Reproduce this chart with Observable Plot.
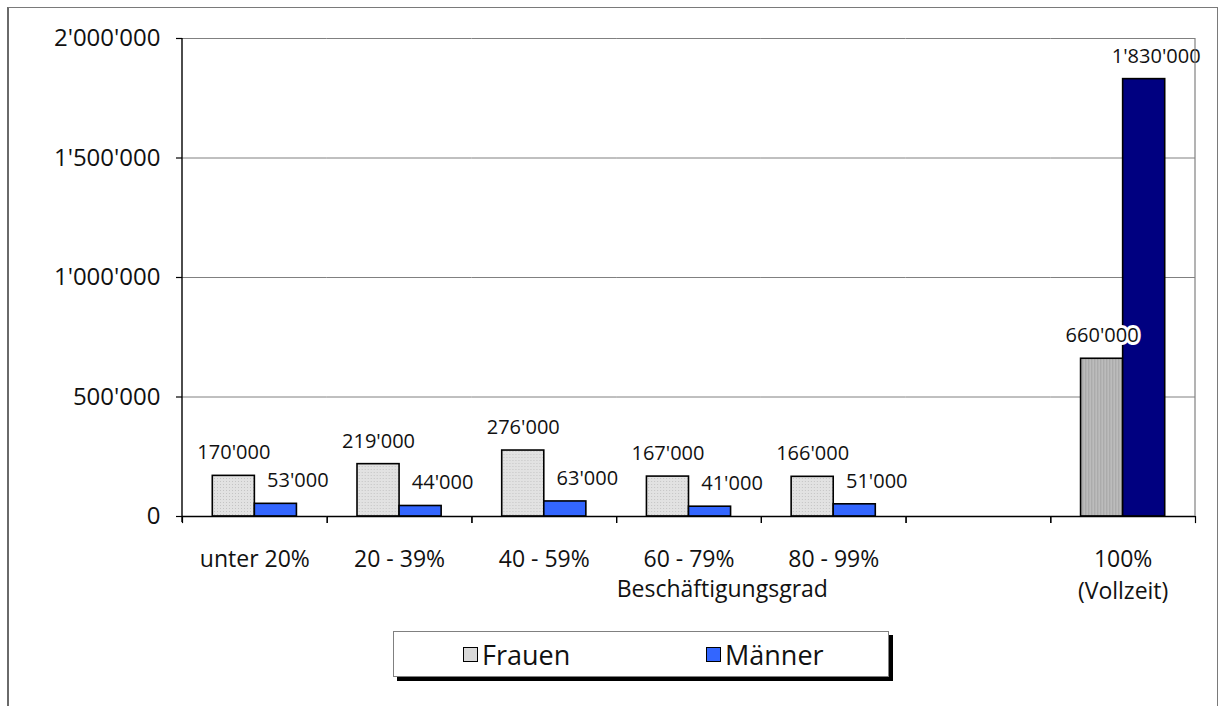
<!DOCTYPE html>
<html>
<head>
<meta charset="utf-8">
<script src="https://cdn.jsdelivr.net/npm/d3@7"></script>
<script src="https://cdn.jsdelivr.net/npm/@observablehq/plot@0.6"></script>
<style>
  html, body { margin: 0; padding: 0; background: #fff; overflow: hidden; }
  #wrap { position: relative; width: 1218px; height: 706px; font-family: "Open Sans", sans-serif; color: #111; }
  #outer { position: absolute; left: 7px; top: 7px; width: 1211px; height: 760px; border: 1px solid #7a7a7a; border-left: 2px solid #6a6a6a; box-sizing: border-box; }
  #chart { position: absolute; left: 0; top: 0; }
  #legend { position: absolute; left: 393px; top: 631px; width: 496px; height: 46px; border: 1px solid #808080; box-sizing: border-box; background: #fff; box-shadow: 4px 4px 0 #000; }
  .item { position: absolute; top: 0; height: 44px; display: flex; align-items: center; font-size: 27px; }
  .sw { width: 13px; height: 13px; border: 1px solid #000; margin-right: 4px; }
</style>
</head>
<body>
<div id="wrap">
  <div id="outer"></div>
  <div id="chart"></div>
  <div id="legend">
    <div class="item" style="left:69px"><div class="sw" style="background:#d9d9d9"></div>Frauen</div>
    <div class="item" style="left:312px"><div class="sw" style="background:#3366ff"></div>Männer</div>
  </div>
</div>
<script>
// ---- data ----
const categories = ["unter 20%", "20 - 39%", "40 - 59%", "60 - 79%", "80 - 99%", " ", "100%"];
const frauen  = [170000, 219000, 276000, 167000, 166000, null, 660000];
const maenner = [53000, 44000, 63000, 41000, 51000, null, 1830000];
const seriesNames = ["Frauen", "Männer"];
const yTicks = [0, 500000, 1000000, 1500000, 2000000];
const axisTitle = "Beschäftigungsgrad";
const fullTimeLabel = "100%\n(Vollzeit)";

const rows = [];
categories.forEach((c, i) => {
  if (frauen[i] != null) rows.push({category: c, series: "Frauen", value: frauen[i], key: c === "100%" ? "Frauen-voll" : "Frauen"});
  if (maenner[i] != null) rows.push({category: c, series: "Männer", value: maenner[i], key: c === "100%" ? "Männer-voll" : "Männer"});
});

const fmt = d3.formatLocale({decimal: ".", thousands: "'", grouping: [3], currency: ["", ""]}).format(",");

const W = 1218, H = 620;
const plot = Plot.plot({
  width: W, height: H,
  marginLeft: 182, marginRight: 23, marginTop: 38, marginBottom: H - 516,
  style: {fontFamily: "Open Sans, sans-serif", color: "#111", background: "transparent"},
  fx: {domain: categories, padding: 0, round: false, axis: null, label: null},
  x: {domain: seriesNames, paddingInner: 0, paddingOuter: 0.72, round: false, axis: null, label: null},
  y: {domain: [0, 2000000], axis: null, label: null},
  color: {domain: ["Frauen", "Männer", "Frauen-voll", "Männer-voll"], range: ["url(#patLight)", "#3366ff", "url(#patDark)", "#000080"]},
  marks: [
    Plot.gridY(yTicks, {stroke: "#808080", strokeOpacity: 1, strokeWidth: 1}),
    Plot.axisY(yTicks, {tickFormat: fmt, tickSize: 6, tickPadding: 16, fontSize: 24, label: null, stroke: "#000", strokeWidth: 1.2}),
    Plot.frame({anchor: "left", insetTop: 478, insetBottom: -6, stroke: "#000", strokeWidth: 1.2}),
    Plot.frame({anchor: "right", insetTop: 478, insetBottom: -6, stroke: "#000", strokeWidth: 1.2}),
    Plot.barY(rows, {fx: "category", x: "series", y: "value", fill: "key", stroke: "#000", strokeWidth: 1.6}),
    Plot.ruleY([0], {stroke: "#000", strokeWidth: 1.5}),
    Plot.text(rows.filter(d => d.series === "Frauen"), {
      fx: "category", x: "series", y: "value", text: d => fmt(d.value), dy: -23,
      fontSize: 20, fill: "#111", stroke: "white", strokeWidth: 6
    }),
    Plot.text(rows.filter(d => d.series === "Männer" && d.category !== "100%"), {
      fx: "category", x: "series", y: "value", text: d => fmt(d.value), dy: -23, dx: 22,
      fontSize: 20, fill: "#111", stroke: "white", strokeWidth: 6
    }),
    Plot.text(rows.filter(d => d.series === "Männer" && d.category === "100%"), {
      fx: "category", x: "series", y: "value", text: d => fmt(d.value), dy: -23, dx: 12,
      fontSize: 20, fill: "#111", stroke: "white", strokeWidth: 6
    }),
    Plot.text(categories, {
      fx: d => d, text: d => d === "100%" ? fullTimeLabel : d.trim(),
      frameAnchor: "bottom", dy: 28, lineAnchor: "top", lineHeight: 1.38, fontSize: 23, fill: "#111"
    }),
    Plot.text([axisTitle], {
      fx: ["60 - 79%"], text: d => d, frameAnchor: "bottom-left", dy: 73, lineAnchor: "middle", fontSize: 23, fill: "#111"
    })
  ]
});

// patterns for the gray bars
const svg = d3.select(plot);
const defs = svg.insert("defs", ":first-child");
const p1 = defs.append("pattern").attr("id", "patLight").attr("width", 3).attr("height", 3).attr("patternUnits", "userSpaceOnUse");
p1.append("rect").attr("width", 3).attr("height", 3).attr("fill", "#e2e2e2");
p1.append("rect").attr("x", 1).attr("y", 1).attr("width", 1).attr("height", 1).attr("fill", "#c4c4c4");
const p2 = defs.append("pattern").attr("id", "patDark").attr("width", 3).attr("height", 3).attr("patternUnits", "userSpaceOnUse");
p2.append("rect").attr("width", 3).attr("height", 3).attr("fill", "#bcbcbc");
p2.append("rect").attr("x", 1).attr("width", 1).attr("height", 3).attr("fill", "#a4a4a4");

// y-axis line (black) and gray right border of the plot area
const fxS = plot.scale("fx"), yS = plot.scale("y");
const xl = fxS.apply(categories[0]);
const xr = fxS.apply("100%") + fxS.bandwidth;
svg.append("line").attr("x1", xr).attr("x2", xr).attr("y1", yS.apply(2000000)).attr("y2", yS.apply(0))
  .attr("stroke", "#808080").attr("stroke-width", 1.2);
svg.append("line").attr("x1", xl).attr("x2", xl).attr("y1", yS.apply(2000000)).attr("y2", yS.apply(0) + 6)
  .attr("stroke", "#000").attr("stroke-width", 1.4);

document.getElementById("chart").appendChild(plot);
</script>
</body>
</html>
